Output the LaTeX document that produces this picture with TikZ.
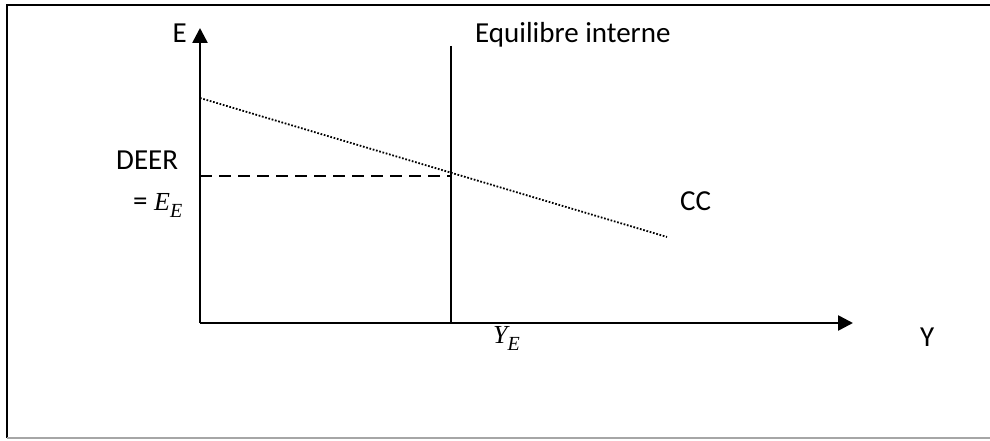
\documentclass[tikz,border=0pt]{standalone}
\usepackage{fontspec}
\setmainfont{Carlito}
\newfontfamily\varfont{Liberation Serif}
\usetikzlibrary{arrows.meta, positioning, calc}
% italic variable with subscript, as set by the equation editor
\newcommand{\varlbl}[2]{{\varfont\itshape\fontsize{26}{30}\selectfont #1\raisebox{-7pt}{\fontsize{20}{24}\selectfont #2}}}

\begin{document}
\begin{tikzpicture}[
    x=1pt, y=1pt,
    axis/.style={line width=2.6pt, -{Triangle[length=15pt, width=15pt]}},
    guide/.style={line width=2.2pt},
    cc_curve/.style={line width=1.8pt, dash pattern=on 1.7pt off 1.7pt},
    eq_level/.style={line width=2.2pt, dash pattern=on 12pt off 7pt},
    txt/.style={font=\fontsize{29}{34}\selectfont, inner sep=0pt},
    frame_line/.style={line width=2.6pt}
]
    \useasboundingbox (0,0) rectangle (990,440);

    % frame
    \draw[frame_line] (1000,435) -- (7,435) -- (7,2);
    \draw[frame_line, gray!70] (7,2) -- (1000,2);

    % axes
    \coordinate (origin) at (200,117);
    \coordinate (e_top) at (200,412);
    \coordinate (y_end) at (853,117);
    \draw[axis] (origin) -- (e_top);
    \draw[axis] (origin) -- (y_end);

    % internal equilibrium
    \coordinate (ie_top) at (451,394);
    \coordinate (ie_bot) at (451,117);
    \draw[guide] (ie_top) -- (ie_bot);

    % CC line and equilibrium level
    \coordinate (cc_start) at (200,342);
    \coordinate (cc_end) at (667,203);
    \draw[cc_curve] (cc_start) -- (cc_end);
    \coordinate (deer_left) at (200,264);
    \coordinate (deer_right) at (451,264);
    \draw[eq_level] (deer_left) -- (deer_right);

    % labels
    \node[txt, anchor=base east] (lbl_e) at (187,397) {E};
    \node[txt, anchor=base west] (lbl_ie) at (475,397) {Equilibre interne};
    \node[txt, anchor=base west] (lbl_deer) at (116,271) {DEER};
    \node[txt, anchor=base west] (lbl_ee) at (133,230) {= \varlbl{E}{E}};
    \node[txt, anchor=base west] (lbl_cc) at (680,230) {CC};
    \node[txt, anchor=base west] (lbl_ye) at (493,97) {\varlbl{Y}{E}};
    \node[txt, anchor=base west] (lbl_y) at (920,94) {Y};

\end{tikzpicture}
\end{document}
